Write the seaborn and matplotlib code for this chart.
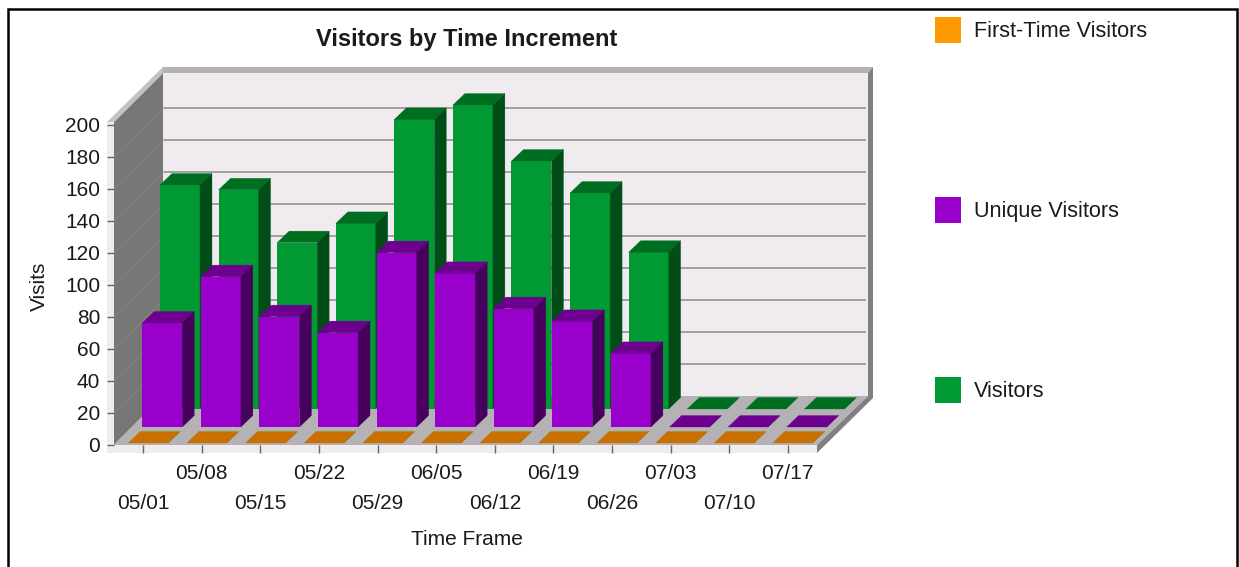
import matplotlib
matplotlib.use("Agg")
import matplotlib.pyplot as plt
from matplotlib.patches import Polygon
from matplotlib.transforms import Affine2D
import pandas as pd
import seaborn as sns

# ---------- data ----------
dates = ["05/01", "05/08", "05/15", "05/22", "05/29", "06/05",
         "06/12", "06/19", "06/26", "07/03", "07/10", "07/17"]
first_time = [0, 0, 0, 0, 0, 0, 0, 0, 0, 0, 0, 0]
unique = [65, 94, 69, 59, 109, 96, 74, 66, 46, 0, 0, 0]
visitors = [140, 137, 104, 116, 181, 190, 155, 135, 98, 0, 0, 0]
series_names = ["First-Time Visitors", "Unique Visitors", "Visitors"]
y_ticks = list(range(0, 201, 20))

# ---------- styles ----------
FRONT = ["#FF9900", "#9900CC", "#009933"]
TOP = ["#C87000", "#6E0090", "#006E20"]
SIDE = ["#A05A00", "#48005F", "#004D17"]
ROW_DX = [5.0, 19.0, 36.7]
ROW_DY = [2.0, 18.0, 36.0]
ROW_Z = [7, 5, 3]
BAR_DX, BAR_DY = 12, 11.5
WALL_DX, WALL_DY = 49.5, 49
W, H = 1239, 567

sns.set_style("white")
plt.rcParams["font.family"] = ["Liberation Sans", "DejaVu Sans"]
plt.rcParams["text.color"] = "#1a1a1a"
plt.rcParams["axes.labelcolor"] = "#1a1a1a"
plt.rcParams["xtick.color"] = "#1a1a1a"
plt.rcParams["ytick.color"] = "#1a1a1a"

fig = plt.figure(figsize=(W / 100, H / 100), dpi=100, facecolor="white")
L, R, T, B = 114, 817, 122, 445
ax = fig.add_axes([L / W, 1 - B / H, (R - L) / W, (B - T) / H])
ax.patch.set_visible(False)
ax.set_axisbelow(False)
for s in ax.spines.values():
    s.set_visible(False)

px = Affine2D().scale(1, -1).translate(0, H)  # image pixels, origin top left

df = pd.DataFrame({
    "Time Frame": dates * 3,
    "Visits": first_time + unique + visitors,
    "Series": sum([[n] * len(dates) for n in series_names], []),
})
sns.barplot(data=df, x="Time Frame", y="Visits", hue="Series", hue_order=series_names,
            palette=dict(zip(series_names, FRONT)), dodge=False, width=40 / 58.6,
            saturation=1, linewidth=0, ax=ax, order=dates)
ax.set_xlim(-0.5, 11.5)
ax.set_ylim(0, (B - T) / 1.6)

# ---------- the box (walls and floor) ----------
def chrome(points, color, z=0.5):
    ax.add_patch(Polygon(points, closed=True, facecolor=color, edgecolor="none",
                         transform=px, zorder=z, clip_on=False))

chrome([(163, 73), (868, 73), (868, 396), (163, 396)], "#EFEBEF")
chrome([(163, 67), (873, 67), (868, 73), (163, 73)], "#B5B2B5")
chrome([(868, 73), (873, 67), (873, 398), (868, 398)], "#808080")
chrome([(114, 122), (163, 73), (163, 396), (114, 445)], "#777775")
chrome([(107, 122), (163, 67), (163, 73), (114, 122)], "#C4C1C4")
chrome([(114, 445), (163, 396), (868, 396), (817, 445)], "#B5B2B5")
chrome([(817, 445), (868, 396), (873, 398), (817, 453)], "#808080")
chrome([(107, 122), (114, 122), (114, 445), (817, 445), (817, 453), (107, 453)], "#EFEBEF")

back = ax.transData + Affine2D().translate(WALL_DX, WALL_DY)
for v in y_ticks[1:-1]:
    ax.plot([-0.5, 11.5], [v, v], color="#8E8A8E", lw=1.1, transform=back,
            clip_on=False, zorder=0.6, solid_capstyle="butt")
    x0, y0 = ax.transData.transform((-0.5, v))
    ax.plot([x0, x0 + WALL_DX], [y0, y0 + WALL_DY], color="#868684", lw=0.6,
            transform=Affine2D(), clip_on=False, zorder=0.6)

# ---------- 3D faces from the bars seaborn made ----------
for row, cont in enumerate(ax.containers):
    shift = Affine2D().translate(ROW_DX[row], ROW_DY[row])
    tr = ax.transData + shift
    for bar in cont:
        bar.set_transform(tr)
        bar.set_zorder(ROW_Z[row])
        bar.set_clip_on(False)
        (x0, y0), (x1, y1) = tr.transform(bar.get_bbox().get_points())
        for pts, col in (
            ([(x0, y1), (x1, y1), (x1 + BAR_DX, y1 + BAR_DY), (x0 + BAR_DX, y1 + BAR_DY)], TOP[row]),
            ([(x1, y0), (x1, y1), (x1 + BAR_DX, y1 + BAR_DY), (x1 + BAR_DX, y0 + BAR_DY)], SIDE[row]),
        ):
            ax.add_patch(Polygon(pts, closed=True, facecolor=col, edgecolor=col, lw=0.2,
                                 transform=Affine2D(), zorder=ROW_Z[row], clip_on=False))

# ---------- axes text ----------
ax.set_yticks(y_ticks)
ax.tick_params(axis="y", left=True, length=5, width=1, pad=5, labelsize=15, color="#666666")
ax.tick_params(axis="x", bottom=True, length=5.8, width=1, labelsize=15, color="#666666")
for i, tick in enumerate(ax.xaxis.get_major_ticks()):
    tick.set_pad(29.5 if i % 2 == 0 else 8)
ax.set_ylabel("Visits", fontsize=15)
ax.set_xlabel("Time Frame", fontsize=15)
ax.yaxis.set_label_coords(49, 286, transform=px)
ax.xaxis.set_label_coords(467, 530, transform=px)
ax.set_title("Visitors by Time Increment", fontweight="bold", fontsize=17,
             x=(467 - L) / (R - L), y=1 + (T - 47) / (B - T) - 7 / (B - T))

sns.move_legend(ax, loc="upper left", bbox_to_anchor=(935 / W, 1 - 17 / H),
                bbox_transform=fig.transFigure, frameon=False, title=None, fontsize=15.6,
                handlelength=1.2, handleheight=1.47, handletextpad=0.6,
                labelspacing=7.11, borderpad=0, borderaxespad=0)

# ---------- outer frame (bottom is cropped in the picture) ----------
fig.add_artist(plt.Line2D([8, 8, 1236.5, 1236.5], [567, 9, 9, 567], color="black", lw=1.8,
                          transform=px, solid_joinstyle="miter"))

fig.savefig("out.png", dpi=100)
